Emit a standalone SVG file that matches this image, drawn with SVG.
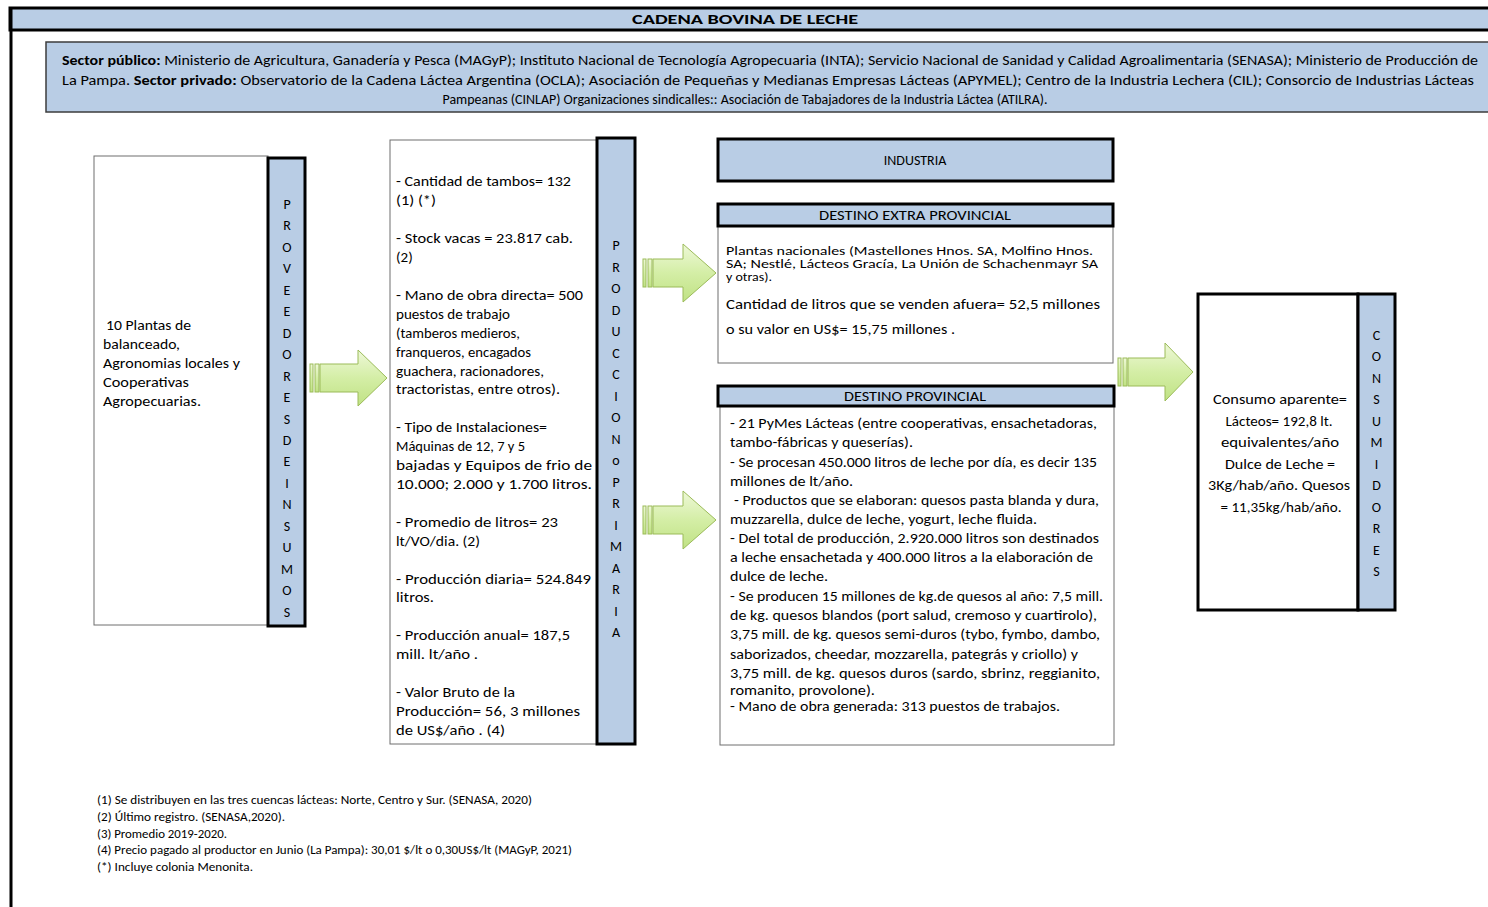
<svg xmlns="http://www.w3.org/2000/svg" width="1488" height="907" viewBox="0 0 1488 907">
<defs>
<linearGradient id="ag" x1="0" y1="0" x2="0" y2="1">
<stop offset="0" stop-color="#eef8d8"/>
<stop offset="0.5" stop-color="#d4eea6"/>
<stop offset="1" stop-color="#c0e284"/>
</linearGradient>
<style>
text{font-family:Carlito,'Liberation Sans',Arial,sans-serif;fill:#000}
.t13{font-size:13px}
.t14{font-size:14px}
.t15{font-size:15px}
.t12{font-size:12.5px}
.c{text-anchor:middle}
.b{font-weight:bold}
.blue{fill:#b9cde5}
.thick{stroke:#000;stroke-width:3}
.thin{fill:#fff;stroke:#6e6e6e;stroke-width:1}
.arrow{fill:url(#ag);stroke:#9bbb59;stroke-width:1}
.vl{font-size:14px;text-anchor:middle}
</style>
</defs>
<rect width="1488" height="907" fill="#fff"/>

<g id="frame">
<rect x="10" y="8" width="1490" height="22" class="blue thick"/>
<line x1="11" y1="8" x2="11" y2="907" stroke="#000" stroke-width="3"/>
<text x="745" y="24" class="t14 b c" textLength="226" lengthAdjust="spacingAndGlyphs">CADENA BOVINA DE LECHE</text>
</g>

<g id="sectores">
<rect x="46" y="42" width="1460" height="70" class="blue" stroke="#3c3c3c" stroke-width="1.5"/>
<text x="62" y="65" class="t14" textLength="1416" lengthAdjust="spacingAndGlyphs"><tspan class="b">Sector público:</tspan> Ministerio de Agricultura, Ganadería y Pesca (MAGyP); Instituto Nacional de Tecnología Agropecuaria (INTA); Servicio Nacional de Sanidad y Calidad Agroalimentaria (SENASA); Ministerio de Producción de</text>
<text x="62" y="85" class="t14" textLength="1412" lengthAdjust="spacingAndGlyphs">La Pampa. <tspan class="b">Sector privado:</tspan>  Observatorio  de la Cadena Láctea  Argentina (OCLA);  Asociación de Pequeñas y Medianas Empresas Lácteas  (APYMEL);  Centro de la Industria Lechera  (CIL); Consorcio de Industrias Lácteas</text>
<text x="745" y="104" class="t14 c" textLength="605" lengthAdjust="spacingAndGlyphs">Pampeanas (CINLAP) Organizaciones sindicalles:: Asociación de Tabajadores de la Industria  Láctea  (ATILRA).</text>
</g>

<g id="proveedores">
<rect x="94" y="156" width="174" height="469" class="thin"/>
<text class="t15" x="106" y="330" textLength="85" lengthAdjust="spacingAndGlyphs">10 Plantas de</text>
<text class="t15" x="103" y="349" textLength="77" lengthAdjust="spacingAndGlyphs">balanceado,</text>
<text class="t15" x="103" y="368" textLength="137" lengthAdjust="spacingAndGlyphs">Agronomias locales y</text>
<text class="t15" x="103" y="387" textLength="86" lengthAdjust="spacingAndGlyphs">Cooperativas</text>
<text class="t15" x="103" y="406" textLength="98" lengthAdjust="spacingAndGlyphs">Agropecuarias.</text>
<rect x="268" y="158" width="37" height="468" class="blue thick"/>
<text class="vl" x="287" y="209">P</text>
<text class="vl" x="287" y="230">R</text>
<text class="vl" x="287" y="252">O</text>
<text class="vl" x="287" y="273">V</text>
<text class="vl" x="287" y="295">E</text>
<text class="vl" x="287" y="316">E</text>
<text class="vl" x="287" y="338">D</text>
<text class="vl" x="287" y="359">O</text>
<text class="vl" x="287" y="381">R</text>
<text class="vl" x="287" y="402">E</text>
<text class="vl" x="287" y="424">S</text>
<text class="vl" x="287" y="445">D</text>
<text class="vl" x="287" y="466">E</text>
<text class="vl" x="287" y="488">I</text>
<text class="vl" x="287" y="509">N</text>
<text class="vl" x="287" y="531">S</text>
<text class="vl" x="287" y="552">U</text>
<text class="vl" x="287" y="574">M</text>
<text class="vl" x="287" y="595">O</text>
<text class="vl" x="287" y="617">S</text>
</g>

<g id="produccion">
<rect x="390" y="140" width="207" height="604" class="thin"/>
<g class="t15">
<text x="396" y="186" textLength="175" lengthAdjust="spacingAndGlyphs">- Cantidad de tambos= 132</text>
<text x="396" y="205" textLength="40" lengthAdjust="spacingAndGlyphs">(1) (*)</text>
<text x="396" y="243" textLength="177" lengthAdjust="spacingAndGlyphs">- Stock vacas = 23.817 cab.</text>
<text x="396" y="262">(2)</text>
<text x="396" y="300" textLength="187" lengthAdjust="spacingAndGlyphs">- Mano de obra directa= 500</text>
<text x="396" y="319" textLength="114" lengthAdjust="spacingAndGlyphs">puestos de trabajo</text>
<text x="396" y="338" textLength="124" lengthAdjust="spacingAndGlyphs">(tamberos medieros,</text>
<text x="396" y="357" textLength="135" lengthAdjust="spacingAndGlyphs">franqueros, encagados</text>
<text x="396" y="376" textLength="148" lengthAdjust="spacingAndGlyphs">guachera, racionadores,</text>
<text x="396" y="394" textLength="164" lengthAdjust="spacingAndGlyphs">tractoristas, entre otros).</text>
<text x="396" y="432" textLength="151" lengthAdjust="spacingAndGlyphs">- Tipo de Instalaciones=</text>
<text x="396" y="451" textLength="129" lengthAdjust="spacingAndGlyphs">Máquinas  de 12, 7 y 5</text>
<text x="396" y="470" textLength="196" lengthAdjust="spacingAndGlyphs">bajadas y Equipos de frio de</text>
<text x="396" y="489" textLength="196" lengthAdjust="spacingAndGlyphs">10.000;  2.000 y 1.700 litros.</text>
<text x="396" y="527" textLength="162" lengthAdjust="spacingAndGlyphs">- Promedio de litros= 23</text>
<text x="396" y="546" textLength="84" lengthAdjust="spacingAndGlyphs">lt/VO/dia. (2)</text>
<text x="396" y="584" textLength="195" lengthAdjust="spacingAndGlyphs">- Producción diaria= 524.849</text>
<text x="396" y="602" textLength="38" lengthAdjust="spacingAndGlyphs">litros.</text>
<text x="396" y="640" textLength="174" lengthAdjust="spacingAndGlyphs">- Producción anual= 187,5</text>
<text x="396" y="659" textLength="82" lengthAdjust="spacingAndGlyphs">mill. lt/año .</text>
<text x="396" y="697" textLength="119" lengthAdjust="spacingAndGlyphs">- Valor Bruto de la</text>
<text x="396" y="716" textLength="184" lengthAdjust="spacingAndGlyphs">Producción= 56, 3 millones</text>
<text x="396" y="735" textLength="109" lengthAdjust="spacingAndGlyphs">de US$/año . (4)</text>
</g>
<rect x="597" y="138" width="38" height="606" class="blue thick"/>
<text class="vl" x="616" y="250">P</text>
<text class="vl" x="616" y="272">R</text>
<text class="vl" x="616" y="293">O</text>
<text class="vl" x="616" y="315">D</text>
<text class="vl" x="616" y="336">U</text>
<text class="vl" x="616" y="358">C</text>
<text class="vl" x="616" y="379">C</text>
<text class="vl" x="616" y="401">I</text>
<text class="vl" x="616" y="422">O</text>
<text class="vl" x="616" y="444">N</text>
<text class="vl" x="616" y="465">o</text>
<text class="vl" x="616" y="487">P</text>
<text class="vl" x="616" y="508">R</text>
<text class="vl" x="616" y="530">I</text>
<text class="vl" x="616" y="551">M</text>
<text class="vl" x="616" y="573">A</text>
<text class="vl" x="616" y="594">R</text>
<text class="vl" x="616" y="616">I</text>
<text class="vl" x="616" y="637">A</text>
</g>

<g id="industria">
<rect x="718" y="139" width="395" height="42" class="blue thick"/>
<text x="915" y="165" class="t14 c">INDUSTRIA</text>
</g>

<g id="destino-extra">
<rect x="718" y="226" width="395" height="137" class="thin"/>
<rect x="718" y="204" width="395" height="22" class="blue thick"/>
<text x="915" y="220" class="t14 c" textLength="192" lengthAdjust="spacingAndGlyphs">DESTINO EXTRA PROVINCIAL</text>
<g class="t13">
<text x="726" y="255" textLength="367" lengthAdjust="spacingAndGlyphs">Plantas nacionales (Mastellones Hnos. SA, Molfino Hnos.</text>
<text x="726" y="268" textLength="372" lengthAdjust="spacingAndGlyphs">SA; Nestlé, Lácteos Gracía, La Unión de Schachenmayr SA</text>
<text x="726" y="281" textLength="46" lengthAdjust="spacingAndGlyphs">y otras).</text>
</g>
<g class="t14">
<text x="726" y="309" textLength="374" lengthAdjust="spacingAndGlyphs">Cantidad de litros  que se  venden afuera=  52,5 millones</text>
<text x="726" y="334" textLength="229" lengthAdjust="spacingAndGlyphs">o su valor en US$=  15,75 millones .</text>
</g>
</g>

<g id="destino-provincial">
<rect x="720" y="406" width="394" height="339" class="thin"/>
<rect x="718" y="386" width="396" height="20" class="blue thick"/>
<text x="915" y="401" class="t14 c" textLength="142" lengthAdjust="spacingAndGlyphs">DESTINO PROVINCIAL</text>
<g class="t14">
<text x="730" y="428" textLength="367" lengthAdjust="spacingAndGlyphs">- 21 PyMes Lácteas (entre cooperativas, ensachetadoras,</text>
<text x="730" y="447" textLength="183" lengthAdjust="spacingAndGlyphs">tambo-fábricas y queserías).</text>
<text x="730" y="467" textLength="367" lengthAdjust="spacingAndGlyphs">- Se procesan 450.000  litros de leche por día, es decir 135</text>
<text x="730" y="486" textLength="123" lengthAdjust="spacingAndGlyphs">millones de lt/año.</text>
<text x="734" y="505" textLength="365" lengthAdjust="spacingAndGlyphs">- Productos que se elaboran: quesos pasta blanda y dura,</text>
<text x="730" y="524" textLength="307" lengthAdjust="spacingAndGlyphs">muzzarella, dulce de leche, yogurt, leche fluida.</text>
<text x="730" y="543" textLength="369" lengthAdjust="spacingAndGlyphs">- Del total de producción, 2.920.000  litros son destinados</text>
<text x="730" y="562" textLength="363" lengthAdjust="spacingAndGlyphs">a leche ensachetada y 400.000  litros  a la elaboración de</text>
<text x="730" y="581" textLength="98" lengthAdjust="spacingAndGlyphs">dulce de leche.</text>
<text x="730" y="601" textLength="373" lengthAdjust="spacingAndGlyphs">- Se producen 15 millones de kg.de quesos al año: 7,5 mill.</text>
<text x="730" y="620" textLength="367" lengthAdjust="spacingAndGlyphs">de kg. quesos blandos (port salud, cremoso y cuartirolo),</text>
<text x="730" y="639" textLength="370" lengthAdjust="spacingAndGlyphs">3,75 mill. de kg. quesos semi-duros (tybo, fymbo, dambo,</text>
<text x="730" y="659" textLength="348" lengthAdjust="spacingAndGlyphs">saborizados, cheedar, mozzarella, pategrás y criollo) y</text>
<text x="730" y="678" textLength="370" lengthAdjust="spacingAndGlyphs">3,75 mill. de kg. quesos duros (sardo, sbrinz, reggianito,</text>
<text x="730" y="695" textLength="145" lengthAdjust="spacingAndGlyphs">romanito, provolone).</text>
<text x="730" y="711" textLength="330" lengthAdjust="spacingAndGlyphs">- Mano de obra generada: 313 puestos de trabajos.</text>
</g>
</g>

<g id="consumidores">
<rect x="1198" y="294" width="160" height="316" fill="#fff" class="thick"/>
<g class="t15 c">
<text x="1280" y="404" textLength="134" lengthAdjust="spacingAndGlyphs">Consumo aparente=</text>
<text x="1279" y="426" textLength="107" lengthAdjust="spacingAndGlyphs">Lácteos= 192,8 lt.</text>
<text x="1280" y="447" textLength="118" lengthAdjust="spacingAndGlyphs">equivalentes/año</text>
<text x="1280" y="469" textLength="110" lengthAdjust="spacingAndGlyphs">Dulce de Leche =</text>
<text x="1279" y="490" textLength="142" lengthAdjust="spacingAndGlyphs">3Kg/hab/año. Quesos</text>
<text x="1281" y="512" textLength="121" lengthAdjust="spacingAndGlyphs">= 11,35kg/hab/año.</text>
</g>
<rect x="1358" y="294" width="37" height="316" class="blue thick"/>
<text class="vl" x="1376.5" y="340">C</text>
<text class="vl" x="1376.5" y="361">O</text>
<text class="vl" x="1376.5" y="383">N</text>
<text class="vl" x="1376.5" y="404">S</text>
<text class="vl" x="1376.5" y="426">U</text>
<text class="vl" x="1376.5" y="447">M</text>
<text class="vl" x="1376.5" y="469">I</text>
<text class="vl" x="1376.5" y="490">D</text>
<text class="vl" x="1376.5" y="512">O</text>
<text class="vl" x="1376.5" y="533">R</text>
<text class="vl" x="1376.5" y="555">E</text>
<text class="vl" x="1376.5" y="576">S</text>
</g>

<g id="connectors">
<g transform="translate(310,378)">
<rect x="0" y="-14" width="3" height="28" class="arrow"/>
<rect x="5" y="-14" width="4" height="28" class="arrow"/>
<path d="M10,-14 H48 V-28 L77,0 L48,28 V14 H10 Z" class="arrow"/>
</g>
<g transform="translate(643,273)">
<rect x="0" y="-14" width="3" height="28" class="arrow"/>
<rect x="5" y="-14" width="4" height="28" class="arrow"/>
<path d="M10,-14 H40 V-29 L73,0 L40,29 V14 H10 Z" class="arrow"/>
</g>
<g transform="translate(643,520)">
<rect x="0" y="-14" width="3" height="28" class="arrow"/>
<rect x="5" y="-14" width="4" height="28" class="arrow"/>
<path d="M10,-14 H40 V-29 L73,0 L40,29 V14 H10 Z" class="arrow"/>
</g>
<g transform="translate(1118,372)">
<rect x="0" y="-14" width="3" height="28" class="arrow"/>
<rect x="5" y="-14" width="4" height="28" class="arrow"/>
<path d="M10,-14 H47 V-29 L75,0 L47,29 V14 H10 Z" class="arrow"/>
</g>
</g>

<g id="notas" class="t12">
<text x="97" y="804" textLength="435" lengthAdjust="spacingAndGlyphs">(1) Se distribuyen en las tres cuencas lácteas: Norte, Centro y Sur. (SENASA, 2020)</text>
<text x="97" y="821" textLength="188" lengthAdjust="spacingAndGlyphs">(2) Último registro. (SENASA,2020).</text>
<text x="97" y="838" textLength="130" lengthAdjust="spacingAndGlyphs">(3) Promedio 2019-2020.</text>
<text x="97" y="854" textLength="475" lengthAdjust="spacingAndGlyphs">(4) Precio pagado al productor en Junio (La Pampa): 30,01 $/lt o 0,30US$/lt (MAGyP, 2021)</text>
<text x="97" y="871" textLength="156" lengthAdjust="spacingAndGlyphs">(*) Incluye colonia Menonita.</text>
</g>
</svg>
